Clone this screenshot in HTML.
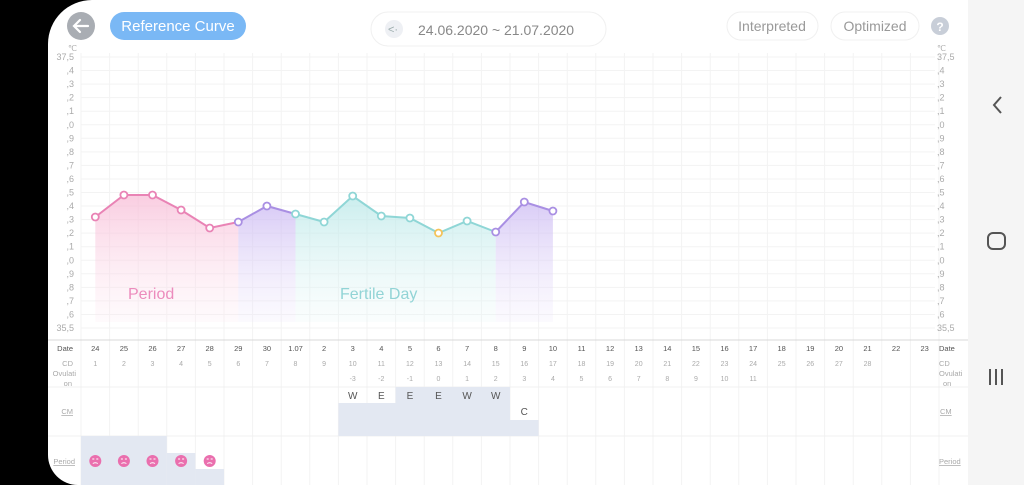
<!DOCTYPE html>
<html><head><meta charset="utf-8"><style>
html,body{margin:0;padding:0;width:1024px;height:485px;overflow:hidden;background:#000;font-family:"Liberation Sans",sans-serif}
#nav{position:absolute;left:968px;top:0;width:56px;height:485px;background:#f5f5f5}
#panel{position:absolute;left:48px;top:0;width:920px;height:485px;background:#fff;border-top-left-radius:44px;border-bottom-left-radius:30px}
svg{position:absolute;left:0;top:0}
</style></head><body>
<div id="nav"></div><div id="panel"></div>
<svg id="s" width="1024" height="485" xmlns="http://www.w3.org/2000/svg" font-family="Liberation Sans, sans-serif">
<defs>
<linearGradient id="gp" x1="0" y1="0" x2="0" y2="1"><stop offset="0" stop-color="#f7b8d4" stop-opacity=".7"/><stop offset="1" stop-color="#fde6f0" stop-opacity=".2"/></linearGradient>
<linearGradient id="gv" x1="0" y1="0" x2="0" y2="1"><stop offset="0" stop-color="#c9b6f2" stop-opacity=".7"/><stop offset="1" stop-color="#ece4fb" stop-opacity=".2"/></linearGradient>
<linearGradient id="gt" x1="0" y1="0" x2="0" y2="1"><stop offset="0" stop-color="#b4e6e6" stop-opacity=".7"/><stop offset="1" stop-color="#e4f6f6" stop-opacity=".2"/></linearGradient>
</defs>
<g id="g"></g>
<circle cx="81" cy="26" r="14" fill="#a9adb3"/>
<path d="M88 26H75M80 20l-6 6 6 6" stroke="#fff" stroke-width="2.2" fill="none" stroke-linecap="round"/>
<rect x="110" y="12" width="136" height="28" rx="14" fill="#7ab8f5"/>
<text x="178" y="31" text-anchor="middle" font-size="15" fill="#fff">Reference Curve</text>
<rect x="371" y="12" width="235" height="34" rx="17" fill="#fff" stroke="#f0f0f0"/>
<circle cx="394" cy="29" r="9" fill="#eef0f4"/>
<text x="388" y="33" font-size="11" fill="#9aa">&lt;·</text>
<text x="418" y="35" font-size="14" fill="#888">24.06.2020 ~ 21.07.2020</text>
<rect x="727" y="12" width="91" height="28" rx="14" fill="#fff" stroke="#f0f0f0"/>
<text x="772" y="31" text-anchor="middle" font-size="14" fill="#999">Interpreted</text>
<rect x="831" y="12" width="88" height="28" rx="14" fill="#fff" stroke="#f0f0f0"/>
<text x="875" y="31" text-anchor="middle" font-size="14" fill="#999">Optimized</text>
<circle cx="940" cy="26" r="9" fill="#c8ced8"/>
<text x="940" y="31" text-anchor="middle" font-size="12" fill="#fff" font-weight="bold">?</text>
<path d="M1001 97l-7 8 7 8" stroke="#555" stroke-width="2" fill="none"/>
<rect x="988" y="233" width="17" height="16" rx="5" stroke="#555" stroke-width="2" fill="none"/>
<path d="M990 369v16M996 369v16M1002 369v16" stroke="#555" stroke-width="2"/>
</svg>
<script>
var g=document.getElementById('g'),h='';
var X0=81,W=28.6,N=30;
function cx(i){return X0+W/2+W*i}
for(var i=0;i<=N;i++){var x=X0+W*i;h+='<line x1="'+x+'" y1="53" x2="'+x+'" y2="485" stroke="#f3f3f3"/>';}
var yl=[ '37,5',',4',',3',',2',',1',',0',',9',',8',',7',',6',',5',',4',',3',',2',',1',',0',',9',',8',',7',',6','35,5'];
for(var k=0;k<=20;k++){var y=57+13.55*k;h+='<line x1="'+X0+'" y1="'+y+'" x2="935" y2="'+y+'" stroke="#f3f3f3"/>';
h+='<text x="74" y="'+(y+3)+'" text-anchor="end" font-size="9" fill="#aaa">'+yl[k]+'</text>';
h+='<text x="937" y="'+(y+3)+'" font-size="9" fill="#aaa">'+yl[k]+'</text>';}
h+='<text x="68" y="51" font-size="8" fill="#aaa">℃</text><text x="937" y="51" font-size="8" fill="#aaa">℃</text>';
h+='<line x1="48" y1="340" x2="968" y2="340" stroke="#d8d8d8"/>';
[387,436].forEach(function(y){h+='<line x1="48" y1="'+y+'" x2="968" y2="'+y+'" stroke="#f0f0f0"/>';});
var sh='#e3e8f2';
h+='<rect x="'+(X0+W*9)+'" y="403" width="'+(W*6)+'" height="33" fill="'+sh+'"/>';
h+='<rect x="'+(X0+W*11)+'" y="387" width="'+(W*4)+'" height="16" fill="'+sh+'"/>';
h+='<rect x="'+(X0+W*15)+'" y="420" width="'+W+'" height="16" fill="'+sh+'"/>';
h+='<rect x="'+X0+'" y="436" width="'+(W*3)+'" height="49" fill="'+sh+'"/>';
h+='<rect x="'+(X0+W*3)+'" y="453" width="'+W+'" height="32" fill="'+sh+'"/>';
h+='<rect x="'+(X0+W*4)+'" y="469" width="'+W+'" height="16" fill="'+sh+'"/>';
var cm=['W','E','E','E','W','W'];cm.forEach(function(c,j){h+='<text x="'+cx(9+j)+'" y="399" text-anchor="middle" font-size="10" fill="#555">'+c+'</text>';});
h+='<text x="'+cx(15)+'" y="415" text-anchor="middle" font-size="10" fill="#555">C</text>';
var dates=['24','25','26','27','28','29','30','1.07'];for(var d=2;d<=23;d++)dates.push(''+d);
for(var i=0;i<N;i++){h+='<text x="'+cx(i)+'" y="351" text-anchor="middle" font-size="7.5" fill="#555">'+dates[i]+'</text>';
 if(i<=27)h+='<text x="'+cx(i)+'" y="366" text-anchor="middle" font-size="7" fill="#aaa">'+(i+1)+'</text>';
 if(i>=9&&i<=23)h+='<text x="'+cx(i)+'" y="381" text-anchor="middle" font-size="7" fill="#aaa">'+(i-12)+'</text>';}
[['Date',351,'#555'],['CD',366,'#aaa']].forEach(function(a){h+='<text x="73" y="'+a[1]+'" text-anchor="end" font-size="7.5" fill="'+a[2]+'">'+a[0]+'</text><text x="939" y="'+a[1]+'" font-size="7.5" fill="'+a[2]+'">'+a[0]+'</text>';});
h+='<text x="76" y="376" text-anchor="end" font-size="7.5" fill="#aaa">Ovulati</text><text x="72" y="386" text-anchor="end" font-size="7.5" fill="#aaa">on</text>';
h+='<text x="939" y="376" font-size="7.5" fill="#aaa">Ovulati</text><text x="943" y="386" font-size="7.5" fill="#aaa">on</text>';
h+='<text x="73" y="414" text-anchor="end" font-size="7.5" fill="#aaa" text-decoration="underline">CM</text><text x="940" y="414" font-size="7.5" fill="#aaa" text-decoration="underline">CM</text>';
h+='<text x="75" y="464" text-anchor="end" font-size="7.5" fill="#aaa" text-decoration="underline">Period</text><text x="939" y="464" font-size="7.5" fill="#aaa" text-decoration="underline">Period</text>';
for(var i=0;i<5;i++){var x=cx(i);h+='<circle cx="'+x+'" cy="461" r="6" fill="#ea6fae"/><path d="M'+(x-3)+' 459h2M'+(x+1)+' 459h2M'+(x-2.5)+' 463.5q2.5 -1.5 5 0" stroke="#fff" stroke-width="1" fill="none"/>';}
var ys=[217,195,195,210,228,222,206,214,222,196,216,218,233,221,232,202,211];
function P(i){return cx(i)+','+ys[i]}
function area(a,b,f){var s='M'+cx(a)+',322';for(var i=a;i<=b;i++)s+='L'+P(i);s+='L'+cx(b)+',322Z';h+='<path d="'+s+'" fill="url(#'+f+')"/>';}
area(0,5,'gp');area(5,7,'gv');area(7,14,'gt');area(14,16,'gv');
h+='<text x="128" y="299" font-size="16" fill="#ec8cbd">Period</text>';
h+='<text x="340" y="299" font-size="16" fill="#92d4d6">Fertile Day</text>';
function line(a,b,c){var s='M'+P(a);for(var i=a+1;i<=b;i++)s+='L'+P(i);h+='<path d="'+s+'" stroke="'+c+'" stroke-width="2" fill="none"/>';}
var pk='#e983b5',pu='#a98fe3',tl='#8fd6d6';
line(0,5,pk);line(5,7,pu);line(7,14,tl);line(14,16,pu);
var pc=[pk,pk,pk,pk,pk,pu,pu,tl,tl,tl,tl,tl,'#f4c35a',tl,pu,pu,pu];
for(var i=0;i<ys.length;i++)h+='<circle cx="'+cx(i)+'" cy="'+ys[i]+'" r="3.5" fill="#fff" stroke="'+pc[i]+'" stroke-width="1.8"/>';
g.innerHTML=h;
</script>
</body></html>
